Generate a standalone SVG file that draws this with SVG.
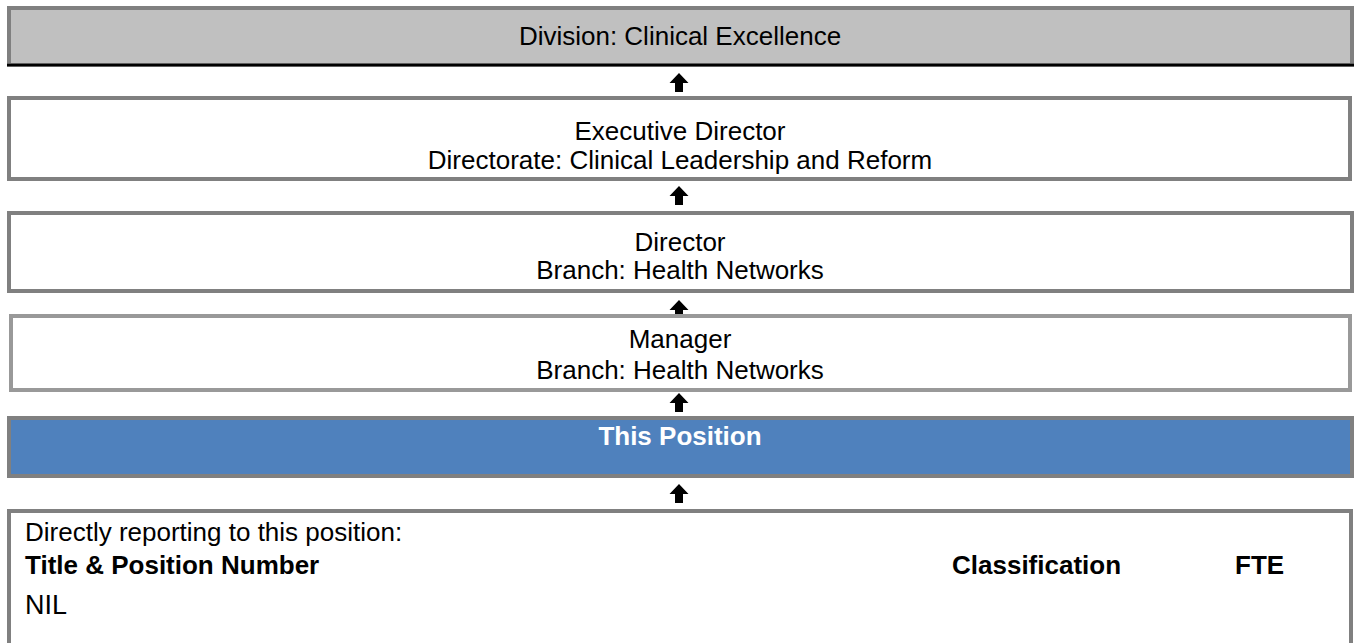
<svg xmlns="http://www.w3.org/2000/svg" width="1358" height="643" viewBox="0 0 1358 643">
  <style>
    .box { fill: #ffffff; stroke: #808080; stroke-width: 4; }
    .lbl { font-family: "Liberation Sans", Arial, sans-serif; font-size: 26px; fill: #000000; }
    .mid { text-anchor: middle; }
    .bold { font-weight: bold; }
    .arrow { fill: #000000; }
  </style>
  <defs>
    <!-- solid up arrow, tip at (0,0) -->
    <path id="up" d="M0,0 L9.5,10 L4,10 L4,19 L-4,19 L-4,10 L-9.5,10 Z"/>
  </defs>
  <rect width="1358" height="643" fill="#ffffff"/>

  <g id="division">
    <rect x="9" y="8" width="1343" height="57" fill="#c0c0c0" stroke="#808080" stroke-width="4"/>
    <line x1="7" y1="65" x2="1354" y2="65" stroke="#000000" stroke-width="2.5"/>
    <text class="lbl mid" x="680" y="45">Division: Clinical Excellence</text>
  </g>

  <g id="executive-director">
    <rect class="box" x="9" y="98" width="1341" height="81"/>
    <text class="lbl mid" x="680" y="140">Executive Director</text>
    <text class="lbl mid" x="680" y="169">Directorate: Clinical Leadership and Reform</text>
  </g>

  <g id="director">
    <rect class="box" x="9" y="213" width="1343" height="78"/>
    <text class="lbl mid" x="680" y="251">Director</text>
    <text class="lbl mid" x="680" y="279">Branch: Health Networks</text>
  </g>

  <g id="connectors" class="arrow">
    <use href="#up" x="679" y="73"/>
    <use href="#up" x="679" y="186"/>
    <use href="#up" x="679" y="300"/>
    <use href="#up" x="679" y="393"/>
    <use href="#up" x="679" y="484"/>
  </g>

  <g id="manager">
    <rect x="11" y="316" width="1339" height="74" fill="#ffffff" stroke="#999999" stroke-width="4"/>
    <text class="lbl mid" x="680" y="348">Manager</text>
    <text class="lbl mid" x="680" y="379">Branch: Health Networks</text>
  </g>

  <g id="this-position">
    <rect x="9" y="418" width="1343" height="58" fill="#4f81bd" stroke="#808080" stroke-width="4"/>
    <text class="lbl mid bold" x="680" y="445" fill="#ffffff" style="fill:#ffffff">This Position</text>
  </g>

  <g id="direct-reports">
    <rect class="box" x="9" y="511" width="1342" height="200"/>
    <text class="lbl" x="25" y="541">Directly reporting to this position:</text>
    <text class="lbl bold" x="25" y="574">Title &amp; Position Number</text>
    <text class="lbl bold" x="952" y="574">Classification</text>
    <text class="lbl bold" x="1235" y="574">FTE</text>
    <text class="lbl" x="25" y="614" style="font-size:27px">NIL</text>
  </g>
</svg>
